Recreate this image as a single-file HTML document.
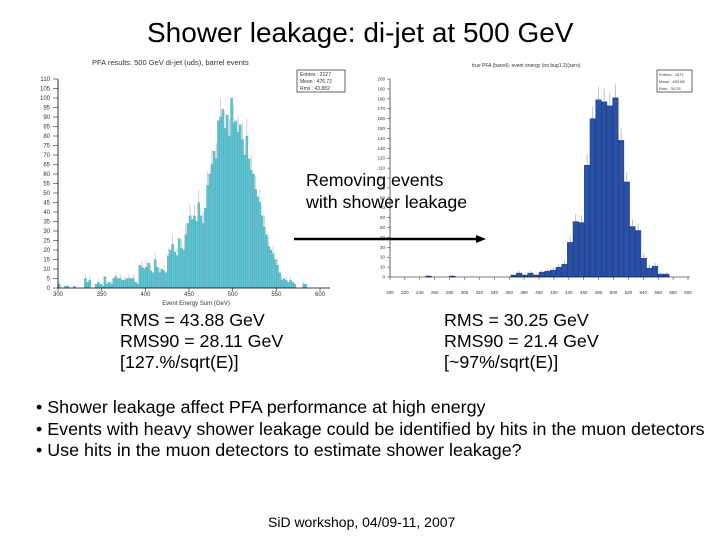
<!DOCTYPE html>
<html><head><meta charset="utf-8"><style>
body{margin:0;background:#fff;}
#slide{position:relative;width:720px;height:540px;overflow:hidden;font-family:"Liberation Sans",sans-serif;color:#000;}
.t{position:absolute;white-space:nowrap;}
</style></head><body>
<div id="slide">
<div class="t" style="left:147px;top:17px;font-size:28px;">Shower leakage: di-jet at 500 GeV</div>
<svg id="chart" width="720" height="310" style="position:absolute;left:0;top:0" font-family="Liberation Sans, sans-serif"></svg>
<div class="t" style="left:306px;top:169px;font-size:17.8px;line-height:22px;">Removing events<br>with shower leakage</div>
<div class="t" style="left:120px;top:310px;font-size:17.8px;line-height:21px;">RMS = 43.88 GeV<br>RMS90 = 28.11 GeV<br>[127.%/sqrt(E)]</div>
<div class="t" style="left:444px;top:310px;font-size:17.8px;line-height:21px;">RMS = 30.25 GeV<br>RMS90 = 21.4 GeV<br>[~97%/sqrt(E)]</div>
<div class="t" style="left:36px;top:397px;font-size:17.9px;line-height:21.5px;">• Shower leakage affect PFA performance at high energy<br>• Events with heavy shower leakage could be identified by hits in the muon detectors<br>• Use hits in the muon detectors to estimate shower leakage?</div>
<div class="t" style="left:268px;top:514px;font-size:14px;">SiD workshop, 04/09-11, 2007</div>
</div>
<script>
const leftValues=[2,0,0,1,1,0,0,1,0,0,0,0,5,3,4,0,0,2,3,2,1,6,2,3,2,5,6,5,5,4,4,5,5,5,5,3,2,12,11,10,11,13,9,8,15,11,8,10,9,8,17,20,23,19,17,26,21,20,28,34,38,36,38,35,45,38,34,42,54,60,65,72,68,88,90,94,84,91,80,100,87,88,82,86,78,70,80,68,62,60,52,48,45,38,32,28,22,20,18,15,12,8,4,5,4,3,4,3,2,0,0,0,2,2];
const leftStart=300,leftWidth=2.5;
const leftYTicks=[0,5,10,15,20,25,30,35,40,45,50,55,60,65,70,75,80,85,90,95,100,105,110];
const leftXTicks=[300,350,400,450,500,550,600];
const rightValues=[2,4,2,4,2,5,6,7,10,13,35,56,55,113,160,179,177,173,181,138,96,51,47,19,9,11,3,3];
const rightStart=362,rightWidth=7.6;
const rightExtraX=[248,280];
const rightExtraV=[1,1];
const rightYTicks=[0,10,20,30,40,50,60,70,80,90,100,110,120,130,140,150,160,170,180,190,200];
const rightXTicks=[200,220,240,260,280,300,320,340,360,380,400,420,440,460,480,500,520,540,560,580,600];
const NS='http://www.w3.org/2000/svg';
const svg=document.getElementById('chart');
function mk(tag,attrs,parent){const e=document.createElementNS(NS,tag);for(const k in attrs)e.setAttribute(k,attrs[k]);(parent||svg).appendChild(e);return e;}
const lx=v=>58+(v-300)*(320-58)/300, ly=v=>288-v*(288-79)/110;
const lr=v=>390+(v-200)*(688-390)/400, ry=v=>277-v*(277-79)/200;
function text(x,y,s,size,anchor,name){const t=mk('text',{x:x,y:y,'font-size':size,'text-anchor':anchor||'start',fill:'#333'});t.textContent=s;return t;}
text(92,65,'PFA results: 500 GeV di-jet (uds), barrel events',7.5,'start','left-chart-title');
text(472,67,'true PFA (barrel): event energy (no bug1.2)(zero)',5,'start','right-chart-title');
leftValues.forEach((v,i)=>{if(v<=0)return;const x0=lx(leftStart+i*leftWidth),x1=lx(leftStart+(i+1)*leftWidth);
const r=mk('rect',{x:x0,y:ly(v),width:x1-x0,height:ly(0)-ly(v),fill:'#5fc3d2',stroke:'#4a9fad','stroke-width':0.3});

if(i%2===0){const e=mk('line',{x1:(x0+x1)/2,x2:(x0+x1)/2,y1:ly(v),y2:ly(v+Math.sqrt(v)),stroke:'#aaa','stroke-width':0.5});
}});
mk('line',{x1:58,x2:330,y1:288,y2:288,stroke:'#000','stroke-width':0.8});
mk('line',{x1:58,x2:58,y1:79,y2:288,stroke:'#000','stroke-width':0.8});
leftYTicks.forEach(v=>{mk('line',{x1:53,x2:58,y1:ly(v),y2:ly(v),stroke:'#000','stroke-width':0.5});text(50,ly(v)+2,String(v),6,'end','left-y-tick-label');});
leftXTicks.forEach(v=>{mk('line',{x1:lx(v),x2:lx(v),y1:288,y2:291,stroke:'#000','stroke-width':0.5});text(lx(v),296,String(v),6,'middle','left-x-tick-label');});
text(196,305,'Event Energy Sum (GeV)',6,'middle','left-x-axis-title');
const lb=mk('rect',{x:297,y:70,width:48,height:22,fill:'#fff',stroke:'#000','stroke-width':0.6});
text(300,76,'Entries :  2127',5,'start','left-stats-entries');text(300,83,'Mean :  476.72',5,'start','left-stats-mean');text(300,90,'Rms :   43.882',5,'start','left-stats-rms');
function rbar(x0v,x1v,v,name){const x0=lr(x0v),x1=lr(x1v);const r=mk('rect',{x:x0,y:ry(v),width:x1-x0,height:ry(0)-ry(v),fill:'#2a50a5',stroke:'#1a3270','stroke-width':0.4});

const e=mk('line',{x1:(x0+x1)/2,x2:(x0+x1)/2,y1:ry(v),y2:ry(v+Math.sqrt(v)),stroke:'#999','stroke-width':0.6});
}
rightValues.forEach((v,i)=>rbar(rightStart+i*rightWidth,rightStart+(i+1)*rightWidth,v,'right-bar'));
rightExtraX.forEach((x,i)=>rbar(x,x+rightWidth,rightExtraV[i],'right-outlier-bar'));
mk('line',{x1:390,x2:690,y1:277,y2:277,stroke:'#000','stroke-width':0.6});
mk('line',{x1:390,x2:390,y1:79,y2:277,stroke:'#000','stroke-width':0.6});
rightYTicks.forEach(v=>{mk('line',{x1:387,x2:390,y1:ry(v),y2:ry(v),stroke:'#000','stroke-width':0.4});text(385,ry(v)+1.5,String(v),4.5,'end','right-y-tick-label');});
rightXTicks.forEach(v=>{mk('line',{x1:lr(v),x2:lr(v),y1:277,y2:280,stroke:'#000','stroke-width':0.4});text(lr(v),294,String(v),4.5,'middle','right-x-tick-label');});
const rb=mk('rect',{x:657,y:70,width:35,height:22,fill:'#fff',stroke:'#000','stroke-width':0.6});
text(659,76,'Entries :  1871',4,'start','right-stats-entries');text(659,83,'Mean :  493.58',4,'start','right-stats-mean');text(659,90,'Rms :  30.25',4,'start','right-stats-rms');
const a=mk('line',{x1:294,x2:478,y1:239,y2:239,stroke:'#000','stroke-width':2.5});
const h=mk('polygon',{points:'476,235 486,239 476,243',fill:'#000'});
</script>
</body></html>
